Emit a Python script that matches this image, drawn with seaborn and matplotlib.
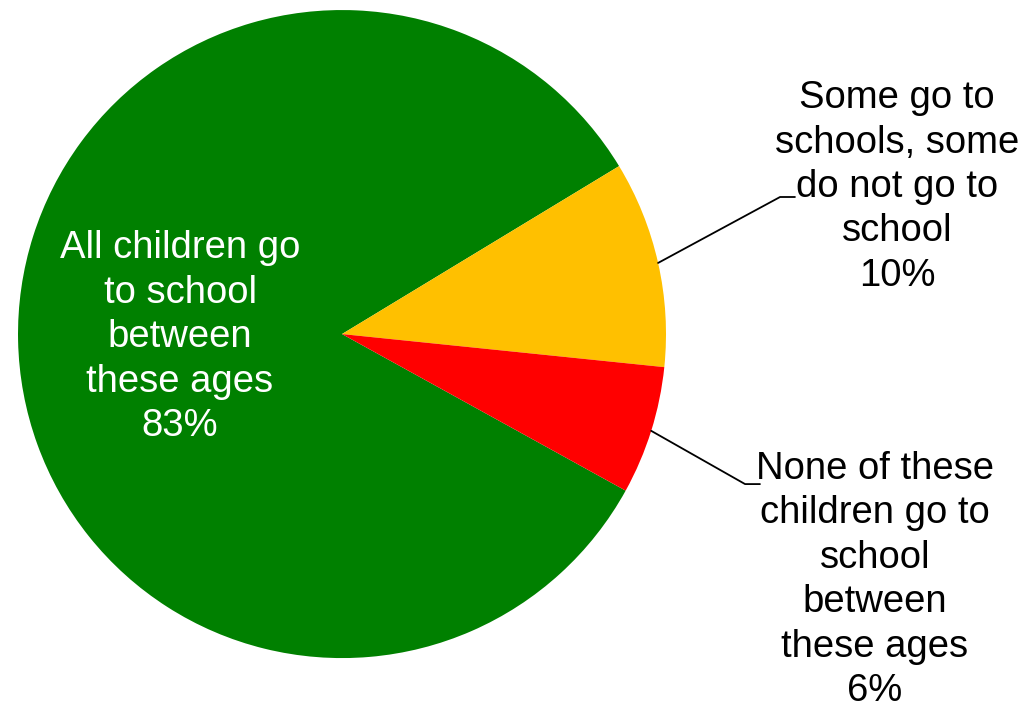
import numpy as np
import matplotlib
matplotlib.use('Agg')
import matplotlib.pyplot as plt
import seaborn as sns

# slice data
categories = ['All children go\nto school\nbetween\nthese ages',
              'Some go to\nschools, some\ndo not go to\nschool',
              'None of these\nchildren go to\nschool\nbetween\nthese ages']
shares = [83.3, 10.3, 6.4]
slice_colors = ['#008000', '#FFC000', '#FF0000']

sns.set_theme(style='white')
plt.rcParams['font.family'] = ['Liberation Sans', 'DejaVu Sans']

fig = plt.figure(figsize=(10.36, 7.07), dpi=100)
ax = fig.add_axes([0, 0, 1, 1])

wedges, _ = ax.pie(shares, colors=slice_colors, startangle=-28.9,
                   counterclock=False, radius=1.0,
                   wedgeprops=dict(linewidth=0))

ax.set_xlim(-1.0556, 2.142)
ax.set_ylim(-1.151, 1.031)
ax.set_aspect('auto')
ax.axis('off')

labels = [f'{c}\n{round(v)}%' for c, v in zip(categories, shares)]

# inside label for the big slice
ax.text(-0.5, -0.01, labels[0], ha='center', va='center', color='white',
        fontsize=27.5, linespacing=1.3)

# outside labels with leader lines
text_pos = [(1.713, 0.454), (1.645, -0.759)]
elbows = [(1.352, 0.423, 1.398), (1.244, -0.463, 1.290)]
for w, lab, (tx, ty), (ex, ey, hx) in zip(wedges[1:], labels[1:], text_pos, elbows):
    mid = np.deg2rad((w.theta1 + w.theta2) / 2)
    sx, sy = 1.0 * np.cos(mid), 1.0 * np.sin(mid)
    ax.plot([sx, ex, hx], [sy, ey, ey], color='black', lw=1.3)
    ax.text(tx, ty, lab, ha='center', va='center', color='black',
            fontsize=27.5, linespacing=1.3)

fig.savefig('out.png', dpi=100, facecolor='white')
